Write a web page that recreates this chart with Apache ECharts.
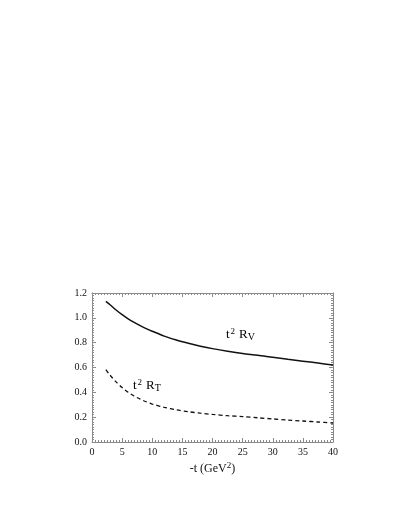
<!DOCTYPE html>
<html>
<head>
<meta charset="utf-8">
<script src="https://cdn.jsdelivr.net/npm/echarts@6/dist/echarts.min.js"></script>
<style>
html,body{margin:0;padding:0;background:#fff;}
#c{width:405px;height:524px;}
</style>
</head>
<body>
<div id="c"></div>
<script>
var tValues = [2.3, 3, 4, 5, 6, 7, 8, 9, 10, 12, 14, 16, 18, 20, 22.5, 25, 27.5, 30, 32.5, 35, 37.5, 40];
var rV = [1.132, 1.105, 1.063, 1.025, 0.992, 0.963, 0.937, 0.913, 0.892, 0.853, 0.821, 0.795, 0.772, 0.752, 0.731, 0.713, 0.699, 0.682, 0.666, 0.651, 0.636, 0.620];
var rT = [0.582, 0.538, 0.484, 0.438, 0.400, 0.370, 0.345, 0.324, 0.306, 0.279, 0.259, 0.244, 0.232, 0.222, 0.212, 0.204, 0.195, 0.186, 0.177, 0.169, 0.161, 0.153];
var xTicks = [0, 5, 10, 15, 20, 25, 30, 35, 40];
var yTicks = [0.0, 0.2, 0.4, 0.6, 0.8, 1.0, 1.2];

var FONT = '"Liberation Serif", "DejaVu Serif", serif';
var frameColor = '#8a8a8a';

function pairs(xs, ys) { return xs.map(function (x, i) { return [x, ys[i]]; }); }

var chart = echarts.init(document.getElementById('c'), null, {renderer: 'canvas'});

var baseX = {
  type: 'value', min: 0, max: 40, interval: 5,
  axisLine: {show: true, onZero: false, lineStyle: {color: frameColor, width: 1}},
  axisTick: {show: true, inside: true, length: 4, lineStyle: {color: frameColor}},
  minorTick: {show: true, splitNumber: 10, length: 2, lineStyle: {color: frameColor}},
  splitLine: {show: false}
};
var baseY = {
  type: 'value', min: 0, max: 1.2, interval: 0.2,
  axisLine: {show: true, onZero: false, lineStyle: {color: frameColor, width: 1}},
  axisTick: {show: true, inside: true, length: 4, lineStyle: {color: frameColor}},
  minorTick: {show: true, splitNumber: 10, length: 2, lineStyle: {color: frameColor}},
  splitLine: {show: false}
};

var labelRich = {
  a: {fontFamily: FONT, fontSize: 13, color: '#111'},
  sup: {fontFamily: FONT, fontSize: 9, color: '#111', verticalAlign: 'top', padding: [0, 4, 6, 1]},
  sub: {fontFamily: FONT, fontSize: 10, color: '#111', verticalAlign: 'bottom', padding: [3, 0, 0, 0]}
};

var option = {
  animation: false,
  backgroundColor: '#fff',
  grid: {left: 92, right: 72, top: 293, bottom: 82, containLabel: false},
  xAxis: [
    Object.assign({}, baseX, {
      position: 'bottom',
      axisLabel: {show: true, margin: 5, color: '#111', fontFamily: FONT, fontSize: 10,
        formatter: function (v) { return xTicks.indexOf(v) >= 0 ? String(v) : ''; }},
      name: '{a|-t (GeV}{sup|2}{a|)}',
      nameLocation: 'middle', nameGap: 19,
      nameTextStyle: {
        rich: {
          a: {fontFamily: FONT, fontSize: 12, color: '#111'},
          sup: {fontFamily: FONT, fontSize: 9, color: '#111', verticalAlign: 'top', padding: [0, 0, 6, 0]}
        }
      }
    }),
    Object.assign({}, baseX, {position: 'top', axisLabel: {show: false}})
  ],
  yAxis: [
    Object.assign({}, baseY, {
      position: 'left',
      axisLabel: {show: true, margin: 5, color: '#111', fontFamily: FONT, fontSize: 10,
        formatter: function (v) { return v.toFixed(1); }}
    }),
    Object.assign({}, baseY, {position: 'right', axisLabel: {show: false}})
  ],
  series: [
    {
      type: 'line', xAxisIndex: 0, yAxisIndex: 0,
      data: pairs(tValues, rV), smooth: 0.3, showSymbol: false,
      lineStyle: {color: '#111', width: 1.5}
    },
    {
      type: 'line', xAxisIndex: 0, yAxisIndex: 0,
      data: pairs(tValues, rT), smooth: 0.3, showSymbol: false,
      lineStyle: {color: '#111', width: 1.3, type: [4, 3]}
    }
  ],
  graphic: [
    {
      type: 'text', left: 226, top: 327,
      style: {text: '{a|t}{sup|2}{a|R}{sub|V}', rich: labelRich}
    },
    {
      type: 'text', left: 133, top: 378,
      style: {text: '{a|t}{sup|2}{a|R}{sub|T}', rich: labelRich}
    }
  ]
};
chart.setOption(option);
</script>
</body>
</html>
